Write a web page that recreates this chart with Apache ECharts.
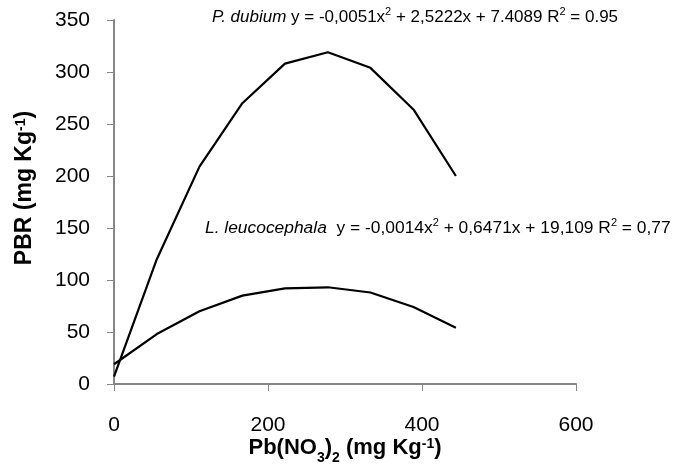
<!DOCTYPE html>
<html>
<head>
<meta charset="utf-8">
<script src="https://cdn.jsdelivr.net/npm/echarts@6/dist/echarts.min.js"></script>
<style>
  html, body { margin: 0; padding: 0; background: #fff; }
  #chart { width: 675px; height: 473px; }
</style>
</head>
<body>
<div id="chart"></div>
<script>
// positions of the points along x, as drawn
const xValues = [0, 55.6, 111, 166.7, 222, 277.8, 333, 388.9, 444];
const dubium = [7, 120, 209, 270, 308, 319, 304, 264, 200];
const leucocephala = [19, 48, 70, 85, 92, 93, 88, 74, 54];
const xTicks = [0, 200, 400, 600];
const yTicks = [0, 50, 100, 150, 200, 250, 300, 350];

const font = '"Liberation Sans", Arial, sans-serif';
const axisGray = '#868686';

const chart = echarts.init(document.getElementById('chart'));

function pairs(ys) {
  return ys.map((y, i) => [xValues[i], y]);
}

function eqRich(size) {
  return {
    i: { fontFamily: font, fontSize: size, fontStyle: 'italic', color: '#000', verticalAlign: 'bottom', lineHeight: 20 },
    n: { fontFamily: font, fontSize: size, color: '#000', verticalAlign: 'bottom', lineHeight: 20 },
    s: { fontFamily: font, fontSize: 11, color: '#000', verticalAlign: 'top', lineHeight: 20 }
  };
}

const option = {
  backgroundColor: '#fff',
  animation: false,
  grid: { left: 114, right: 99, top: 20, bottom: 89, outerBoundsMode: 'none', containLabel: false },
  xAxis: {
    type: 'value',
    min: xTicks[0],
    max: xTicks[xTicks.length - 1],
    interval: 200,
    name: '{b|Pb(NO}{sub|3}{b|)}{sub|2}{b| (mg Kg}{sup|-1}{b|)}',
    nameLocation: 'middle',
    nameGap: 51,
    nameMoveOverlap: false,
    nameTextStyle: {
      rich: {
        b: { fontFamily: font, fontSize: 22, fontWeight: 'bold', color: '#000', lineHeight: 26, verticalAlign: 'middle' },
        sub: { fontFamily: font, fontSize: 14, fontWeight: 'bold', color: '#000', lineHeight: 26, verticalAlign: 'bottom', padding: [0, 0, -4, 0] },
        sup: { fontFamily: font, fontSize: 14, fontWeight: 'bold', color: '#000', lineHeight: 26, verticalAlign: 'top', padding: [2, 0, 0, 0] }
      }
    },
    axisLine: { lineStyle: { color: axisGray, width: 2 } },
    axisTick: { show: true, length: 7, lineStyle: { color: axisGray, width: 1 } },
    axisLabel: { color: '#000', fontFamily: font, fontSize: 21, margin: 31 },
    splitLine: { show: false }
  },
  yAxis: {
    type: 'value',
    min: yTicks[0],
    max: yTicks[yTicks.length - 1],
    interval: 50,
    name: '{b|PBR (mg Kg}{sup|-1}{b|)}',
    nameLocation: 'middle',
    nameRotate: 90,
    nameGap: 76,
    nameTextStyle: {
      padding: [0, 0, 0, 28],
      rich: {
        b: { fontFamily: font, fontSize: 23, fontWeight: 'bold', color: '#000', lineHeight: 26, verticalAlign: 'middle' },
        sup: { fontFamily: font, fontSize: 14, fontWeight: 'bold', color: '#000', lineHeight: 26, verticalAlign: 'top', padding: [2, 0, 0, 0] }
      }
    },
    axisLine: { show: true, lineStyle: { color: axisGray, width: 2 } },
    axisTick: { show: true, length: 7, lineStyle: { color: axisGray, width: 1 } },
    axisLabel: { color: '#000', fontFamily: font, fontSize: 21, margin: 24 },
    splitLine: { show: false }
  },
  series: [
    {
      name: 'P. dubium',
      type: 'line',
      data: pairs(dubium),
      showSymbol: false,
      lineStyle: { color: '#000', width: 2.2 }
    },
    {
      name: 'L. leucocephala',
      type: 'line',
      data: pairs(leucocephala),
      showSymbol: false,
      lineStyle: { color: '#000', width: 2.2 }
    }
  ],
  graphic: [
    {
      type: 'text',
      left: 212,
      top: 6,
      style: {
        text: '{i|P. dubium}{n| y = -0,0051x}{s|2}{n| + 2,5222x + 7.4089 R}{s|2}{n| = 0.95}',
        rich: eqRich(17)
      }
    },
    {
      type: 'text',
      left: 205,
      top: 217,
      style: {
        text: '{i|L. leucocephala}{n|  y = -0,0014x}{s|2}{n| + 0,6471x + 19,109 R}{s|2}{n| = 0,77}',
        rich: eqRich(17.4)
      }
    }
  ]
};

chart.setOption(option);
</script>
</body>
</html>
